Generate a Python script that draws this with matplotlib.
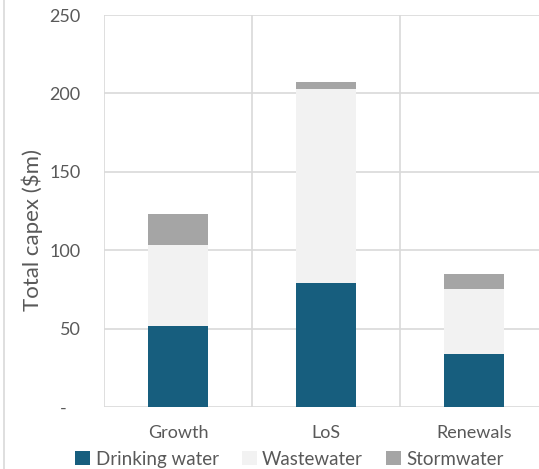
import matplotlib
matplotlib.use("Agg")
import matplotlib.pyplot as plt
from matplotlib.lines import Line2D
import numpy as np

# data
categories = ["Growth", "LoS", "Renewals"]
drinking = [51.5, 79.0, 34.0]
wastewater = [52.0, 123.5, 41.0]
stormwater = [19.5, 4.5, 10.0]
series_names = ["Drinking water", "Wastewater", "Stormwater"]
colors = ["#175E7E", "#F2F2F2", "#A5A5A5"]
yticks = [0, 50, 100, 150, 200, 250]
ytick_labels = ["-   ", "50", "100", "150", "200", "250"]

plt.rcParams["font.family"] = ["Lato", "DejaVu Sans"]
txt = "#595959"
grid = "#D9D9D9"

fig = plt.figure(figsize=(5.39, 4.69), dpi=100)
ax = fig.add_axes([104 / 539, 62 / 469, 444 / 539, 392 / 469])

x = np.arange(len(categories))
bottom = np.zeros(len(categories))
for vals, name, c in zip([drinking, wastewater, stormwater], series_names, colors):
    ax.bar(x, vals, width=0.4, bottom=bottom, color=c, label=name, zorder=3)
    bottom += np.array(vals)

ax.set_xlim(-0.5, 2.5)
ax.set_ylim(0, 250)
ax.set_yticks(yticks)
ax.set_yticklabels(ytick_labels)
ax.set_xticks(x)
ax.set_xticklabels(categories)
ax.set_xticks([-0.5, 0.5, 1.5, 2.5], minor=True)
ax.tick_params(axis="both", which="both", length=0, labelsize=13, colors=txt)
ax.tick_params(axis="y", pad=17)
ax.tick_params(axis="x", pad=13)
ax.grid(axis="y", color=grid, linewidth=1.2, zorder=0)
ax.grid(axis="x", which="minor", color=grid, linewidth=1.2, zorder=0)
for s in ax.spines.values():
    s.set_visible(False)
ax.set_ylabel("Total capex ($m)", fontsize=16, color=txt)
ax.yaxis.set_label_coords(-0.137, 0.452)

handles, labels = ax.get_legend_handles_labels()
leg = fig.legend(handles, labels, loc="center", bbox_to_anchor=(289.5 / 539, 1 - 459 / 469),
                 ncol=3, frameon=False, fontsize=13.5, handlelength=0.8, handleheight=0.8,
                 handletextpad=0.3, columnspacing=1.2, borderaxespad=0)
for t in leg.get_texts():
    t.set_color(txt)

# chart frame on the left
fig.add_artist(Line2D([3.5 / 539, 3.5 / 539], [0, 1], color=grid, linewidth=1.2,
                      transform=fig.transFigure))

fig.savefig("out.png", dpi=100)
